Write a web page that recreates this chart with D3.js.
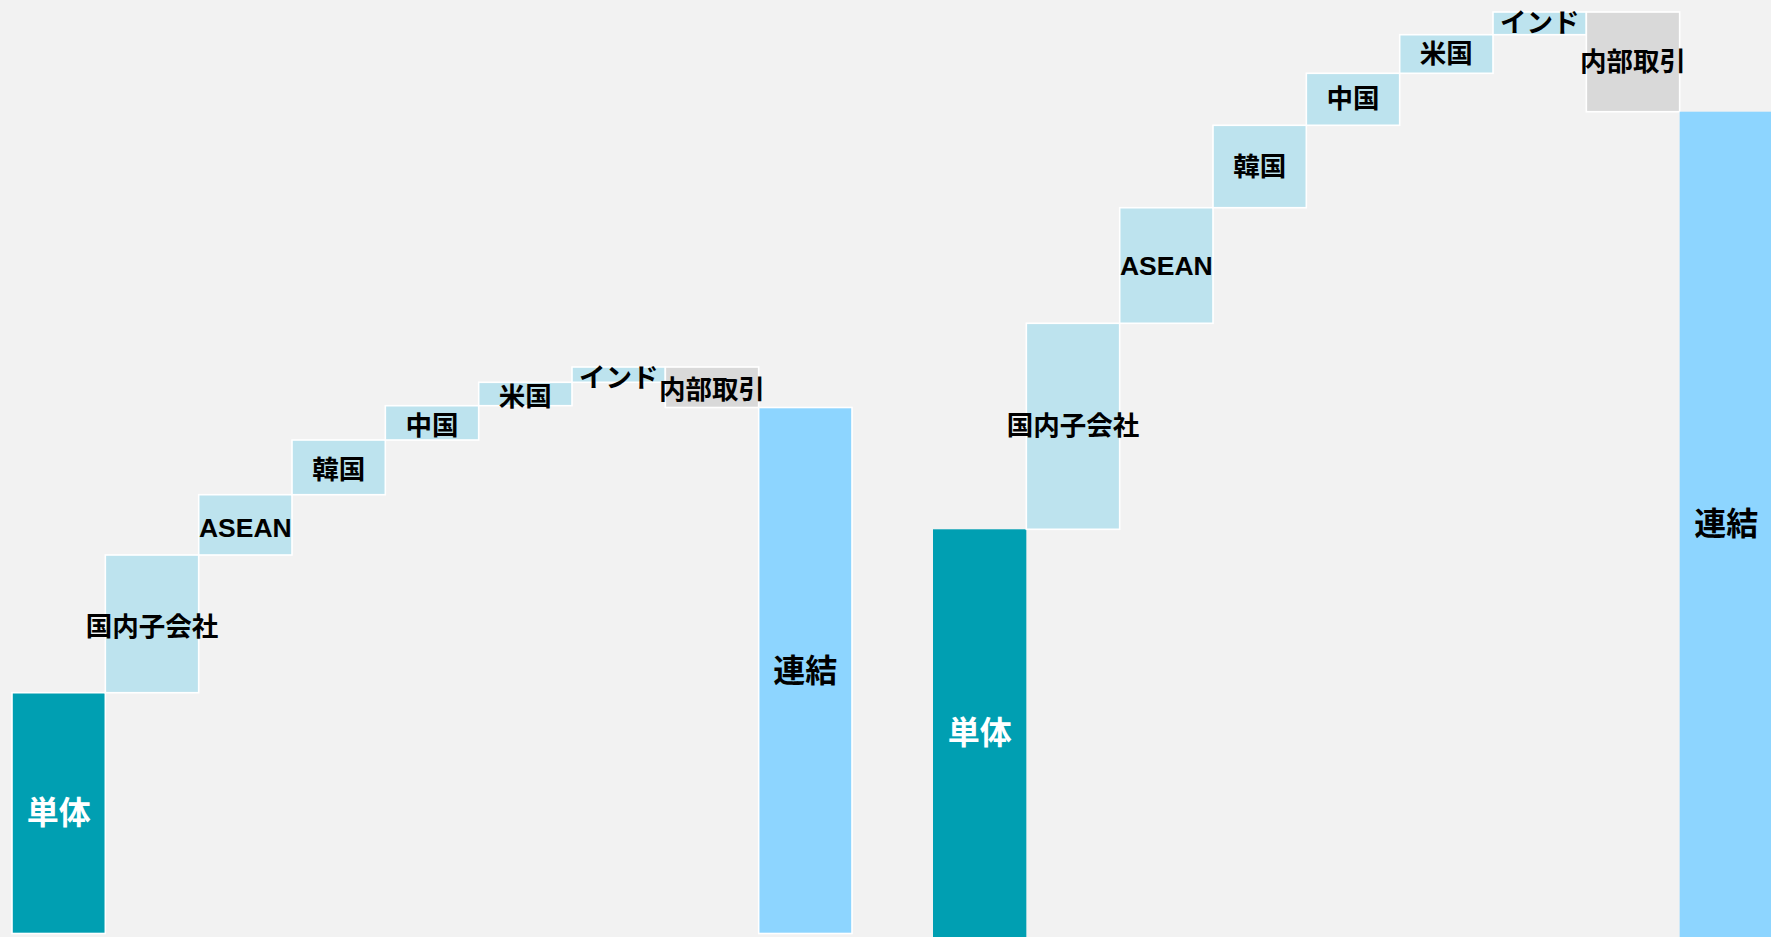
<!DOCTYPE html>
<html>
<head>
<meta charset="utf-8">
<script src="https://cdn.jsdelivr.net/npm/d3@7"></script>
<style>
  html, body { margin: 0; padding: 0; background: #f2f2f2; overflow: hidden; }
  svg { display: block; }
  text { font-family: "Liberation Sans", "Noto Sans CJK JP", sans-serif; font-weight: bold; }
</style>
</head>
<body>
<svg id="chart" width="1771" height="937"></svg>
<script>
// ---- data ----
const categories = ["単体", "国内子会社", "ASEAN", "韓国", "中国", "米国", "インド", "内部取引", "連結"];
const kinds      = ["start", "inc", "inc", "inc", "inc", "inc", "inc", "dec", "total"];
const leftValues  = [240.8, 137.7, 60.3, 54.7, 34.3, 23.4, 15.3, -40.5, 526.0];
const rightValues = [407.7, 206.0, 115.6, 82.4, 52.0, 38.6, 22.7, -99.7, 825.3];

// ---- layout / style ----
const W = 1771, H = 937;
const svg = d3.select("#chart");
svg.append("rect").attr("width", W).attr("height", H).attr("fill", "#f2f2f2");

const fillByKind = { start: "#009fb2", inc: "#bde3ee", dec: "#d9d9d9", total: "#8dd5ff" };

function steps(values) {
  let cum = 0;
  return values.map((v, i) => {
    const k = kinds[i];
    let y0, y1;
    if (k === "start" || k === "total") { y0 = 0; y1 = v; cum = v; }
    else { y0 = cum; y1 = cum + v; cum = y1; }
    return { cat: categories[i], kind: k, y0, y1, v };
  });
}

function isTotal(d) { return d.kind === "start" || d.kind === "total"; }

function drawChart(values, opts) {
  const g = svg.append("g");
  const x = d3.scaleBand().domain(categories).range(opts.xRange).padding(0);
  const y = d3.scaleLinear().domain(opts.yDomain).range(opts.yRange);
  const data = steps(values);

  g.selectAll("rect.bar").data(data).join("rect")
    .attr("class", "bar")
    .attr("x", d => x(d.cat))
    .attr("width", x.bandwidth())
    .attr("y", d => y(Math.max(d.y0, d.y1)))
    .attr("height", d => Math.abs(y(d.y0) - y(d.y1)))
    .attr("fill", d => fillByKind[d.kind])
    .attr("stroke", d => (opts.totalStroke || !isTotal(d)) ? "#ffffff" : "none")
    .attr("stroke-width", 1.6);

  g.selectAll("text.lbl").data(data).join("text")
    .attr("class", "lbl")
    .attr("x", d => x(d.cat) + x.bandwidth() / 2)
    .attr("y", d => (y(d.y0) + y(d.y1)) / 2 + (isTotal(d) ? 0 : opts.labelDy))
    .attr("text-anchor", "middle")
    .attr("dominant-baseline", "central")
    .attr("font-size", d => isTotal(d) ? 32 : 26.5)
    .attr("fill", d => d.kind === "start" ? "#ffffff" : "#000000")
    .text(d => d.cat);
}

drawChart(leftValues, {
  xRange: [12, 852],
  yDomain: [0, 600],
  yRange: [933.5, 333.5],
  totalStroke: true,
  labelDy: 3
});

drawChart(rightValues, {
  xRange: [933, 1773],
  yDomain: [0, 1000],
  yRange: [937, -63],
  totalStroke: false,
  labelDy: 0
});
</script>
</body>
</html>
